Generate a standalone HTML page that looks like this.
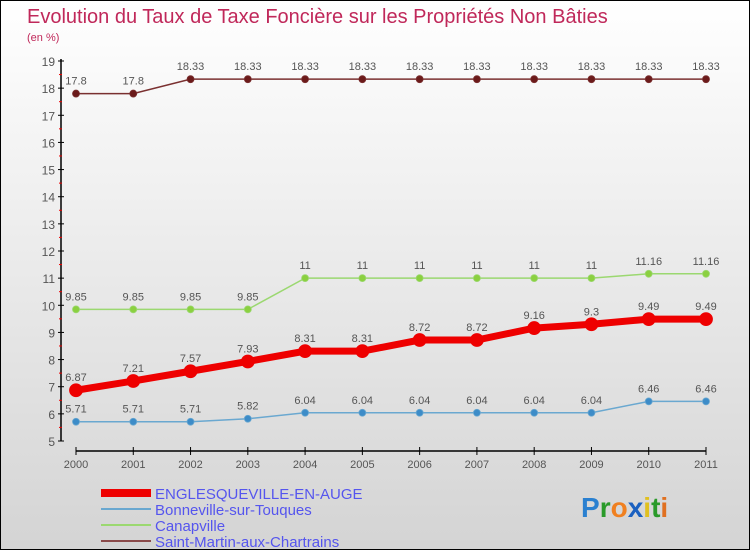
<!DOCTYPE html>
<html><head><meta charset="utf-8"><style>
body{margin:0;}
#c{width:750px;height:550px;position:relative;background:linear-gradient(#ffffff,#d4d4d4);box-sizing:border-box;border:1px solid #000;font-family:"Liberation Sans",sans-serif;overflow:hidden}
svg text{font-family:"Liberation Sans",sans-serif}
</style></head><body>
<div id="c">
<svg id="s" width="750" height="550">
<text x="26" y="22" font-size="20" fill="#c0285a">Evolution du Taux de Taxe Foncière sur les Propriétés Non Bâties</text>
<text x="26" y="40" font-size="11" fill="#c0285a">(en %)</text>
</svg>
</div>
<script>
const years=["2000","2001","2002","2003","2004","2005","2006","2007","2008","2009","2010","2011"];
const yTicks=[5,6,7,8,9,10,11,12,13,14,15,16,17,18,19];
const englesqueville=[6.87,7.21,7.57,7.93,8.31,8.31,8.72,8.72,9.16,9.3,9.49,9.49];
const bonneville=[5.71,5.71,5.71,5.82,6.04,6.04,6.04,6.04,6.04,6.04,6.46,6.46];
const canapville=[9.85,9.85,9.85,9.85,11,11,11,11,11,11,11.16,11.16];
const saintMartin=[17.8,17.8,18.33,18.33,18.33,18.33,18.33,18.33,18.33,18.33,18.33,18.33];
const seriesNames=["ENGLESQUEVILLE-EN-AUGE","Bonneville-sur-Touques","Canapville","Saint-Martin-aux-Chartrains"];
const NS="http://www.w3.org/2000/svg",s=document.getElementById('s');
const xS=i=>75+i*(705-75)/(years.length-1);
const yS=v=>440-(v-5)*(440-60)/(19-5);
function mk(t,a,p){const e=document.createElementNS(NS,t);for(const k in a)e.setAttribute(k,a[k]);(p||s).appendChild(e);return e;}
// axes
let ya=mk('line',{x1:60,y1:58,x2:60,y2:440,stroke:'#000','stroke-width':1.5});


let xa=mk('line',{x1:75,y1:450,x2:705,y2:450,stroke:'#000','stroke-width':1.5});


yTicks.forEach(v=>{const y=yS(v);
mk('line',{x1:57,y1:y,x2:63,y2:y,stroke:'#000'});
if(v<19)mk('line',{x1:58,y1:y-13.6,x2:61,y2:y-13.6,stroke:'#e00'});
const t=mk('text',{x:54,y:y+5,'font-size':12,fill:'#555','text-anchor':'end'});t.textContent=v;

});
years.forEach((yr,i)=>{const x=xS(i);
mk('line',{x1:x,y1:446,x2:x,y2:454,stroke:'#000'});
const t=mk('text',{x:x,y:467,'font-size':11,fill:'#555','text-anchor':'middle'});t.textContent=yr;

});
function series(d,col,w,r,name,fc){
const g=mk('g',{});


mk('polyline',{points:d.map((v,i)=>xS(i)+','+yS(v)).join(' '),fill:'none',stroke:col,'stroke-width':w},g);
d.forEach((v,i)=>{const c=mk('circle',{cx:xS(i),cy:yS(v),r:r,fill:fc,stroke:col,'stroke-width':0.8},g);


const t=mk('text',{x:xS(i),y:yS(v)-9,'font-size':11,fill:'#555','text-anchor':'middle'},g);t.textContent=v;});}
series(saintMartin,'#7a3030',1.5,3.5,'series-saint-martin','#6b1a1a');
series(canapville,'#9bd870',1.5,3.5,'series-canapville','#8bd040');
series(bonneville,'#6aa8d0',1.5,3.5,'series-bonneville','#3d8cc8');
series(englesqueville,'#ee0000',7,6.5,'series-englesqueville','#ee0000');
// legend
const lc=['#ee0000','#6aa8d0','#9bd870','#8a4a4a'],lw=[8,2,2,2];
seriesNames.forEach((n,i)=>{const y=492+i*16;
const g=mk('g',{});


mk('line',{x1:100,y1:y,x2:150,y2:y,stroke:lc[i],'stroke-width':lw[i]},g);
const t=mk('text',{x:154,y:y+6,'font-size':15,fill:'#5555ee'},g);t.textContent=n;});
const p=mk('text',{x:580,y:516,'font-size':28,'font-weight':'bold'});


[['P','#2a80d0'],['r','#2a9a2a'],['o','#f08020'],['x','#1a60c0'],['i','#e0c020'],['t','#2a9a2a'],['i','#e07020']].forEach(([c,f])=>{const ts=mk('tspan',{fill:f},p);ts.textContent=c;});
</script>
</body></html>
